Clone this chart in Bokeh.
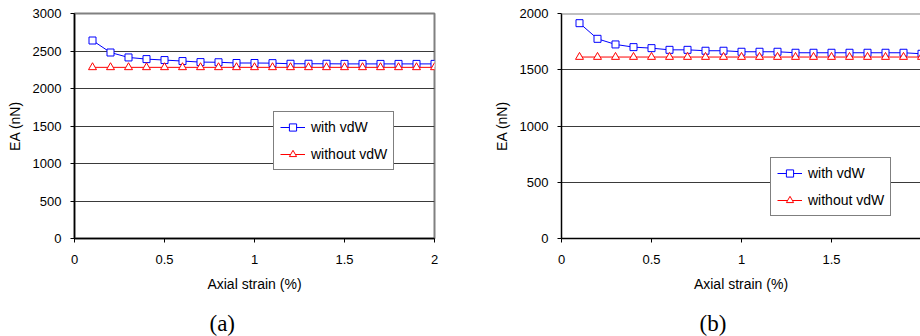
from bokeh.plotting import figure
from bokeh.layouts import row
from bokeh.models import Range1d, FixedTicker, Title, Legend, LegendItem, Span
from bokeh.embed import file_html
from bokeh.resources import INLINE

strain = [0.1, 0.2, 0.3, 0.4, 0.5, 0.6, 0.7, 0.8, 0.9, 1.0,
          1.1, 1.2, 1.3, 1.4, 1.5, 1.6, 1.7, 1.8, 1.9, 2.0]

a_with = [2640, 2480, 2414, 2392, 2379, 2366, 2352, 2350, 2340, 2340,
          2338, 2330, 2330, 2330, 2328, 2328, 2328, 2328, 2328, 2328]
a_without = [2282] * 20

b_with = [1914, 1775, 1725, 1701, 1692, 1677, 1677, 1669, 1669, 1660,
          1660, 1660, 1651, 1651, 1651, 1651, 1651, 1651, 1651, 1642]
b_without = [1613] * 20

x_ticks = [0, 0.5, 1, 1.5, 2]
a_yticks = [0, 500, 1000, 1500, 2000, 2500, 3000]
b_yticks = [0, 500, 1000, 1500, 2000]

FONT = "Liberation Sans"


def make_panel(ys_with, ys_without, ymax, yticks, xend, frame_w, mb_right,
               caption, cap_offset, leg_loc, show_outline):
    p = figure(width=74 + frame_w + mb_right, height=336,
               frame_width=frame_w, frame_height=225,
               min_border_left=74, min_border_right=mb_right,
               min_border_top=13, min_border_bottom=98,
               x_range=Range1d(0, xend), y_range=Range1d(0, ymax),
               output_backend="svg", toolbar_location=None)
    p.background_fill_color = "white"
    p.border_fill_color = "white"
    grid_ticks = yticks[:-1]
    if show_outline:
        p.outline_line_color = "#808080"
        p.outline_line_width = 2
    else:
        p.outline_line_color = None
        p.add_layout(Span(location=ymax, dimension="width",
                          line_color="#808080", line_width=2))

    p.xgrid.visible = False
    p.ygrid.grid_line_color = "#3a3a3a"
    p.ygrid.grid_line_width = 1
    p.ygrid.ticker = FixedTicker(ticks=grid_ticks)

    for ax in (p.xaxis[0], p.yaxis[0]):
        ax.axis_line_color = "black"
        ax.axis_line_width = 1.5
        ax.major_tick_line_color = "black"
        ax.major_tick_in = 0
        ax.major_tick_out = 4
        ax.minor_tick_line_color = None
        ax.major_label_text_font = FONT
        ax.major_label_text_font_size = "13px"
        ax.major_label_text_color = "black"
        ax.axis_label_text_font = FONT
        ax.axis_label_text_font_size = "14px"
        ax.axis_label_text_font_style = "normal"
        ax.axis_label_text_color = "black"

    p.xaxis.ticker = FixedTicker(ticks=x_ticks)
    p.xaxis.major_label_overrides = {0: "0", 0.5: "0.5", 1: "1", 1.5: "1.5", 2: "2"}
    p.xaxis.axis_label = "Axial strain (%)"
    p.xaxis.major_label_standoff = 12
    p.xaxis.axis_label_standoff = 9
    p.yaxis.ticker = FixedTicker(ticks=yticks)
    p.yaxis.axis_label = "EA (nN)"
    p.yaxis.major_label_standoff = 9
    p.yaxis.axis_label_standoff = 7

    l1 = p.line(strain, ys_with, line_color="#0000ff", line_width=1)
    m1 = p.scatter(strain, ys_with, marker="square", size=7,
                   line_color="#0000ff", fill_color="white", line_width=1)
    l2 = p.line(strain, ys_without, line_color="#ff0000", line_width=1)
    m2 = p.scatter(strain, ys_without, marker="triangle", size=8,
                   line_color="#ff0000", fill_color="white", line_width=1)

    leg = Legend(items=[LegendItem(label="with vdW", renderers=[l1, m1]),
                        LegendItem(label="without vdW", renderers=[l2, m2])],
                 location=leg_loc)
    leg.label_text_font = FONT
    leg.label_text_font_size = "14px"
    leg.label_text_color = "black"
    leg.border_line_color = "black"
    leg.border_line_width = 1
    leg.background_fill_color = "white"
    leg.background_fill_alpha = 1
    leg.padding = 6
    leg.spacing = 9
    leg.margin = 0
    leg.glyph_width = 25
    leg.glyph_height = 18
    leg.label_standoff = 6
    leg.label_height = 18
    p.add_layout(leg, "center")

    t = Title(text=caption, align="left", offset=cap_offset,
              text_font="Liberation Serif",
              text_font_size="23px", text_font_style="normal",
              text_color="black", standoff=28)
    p.add_layout(t, "below")
    return p


pa = make_panel(a_with, a_without, 3000, a_yticks, 2.0, 360, 53, "(a)", 135,
                (199, 68), True)
pb = make_panel(b_with, b_without, 2000, b_yticks, 359 / 180, 359, 0, "(b)", 138,
                (209, 22), False)

layout = row(pa, pb, spacing=0)
open("out.html", "w").write(file_html(layout, INLINE))
